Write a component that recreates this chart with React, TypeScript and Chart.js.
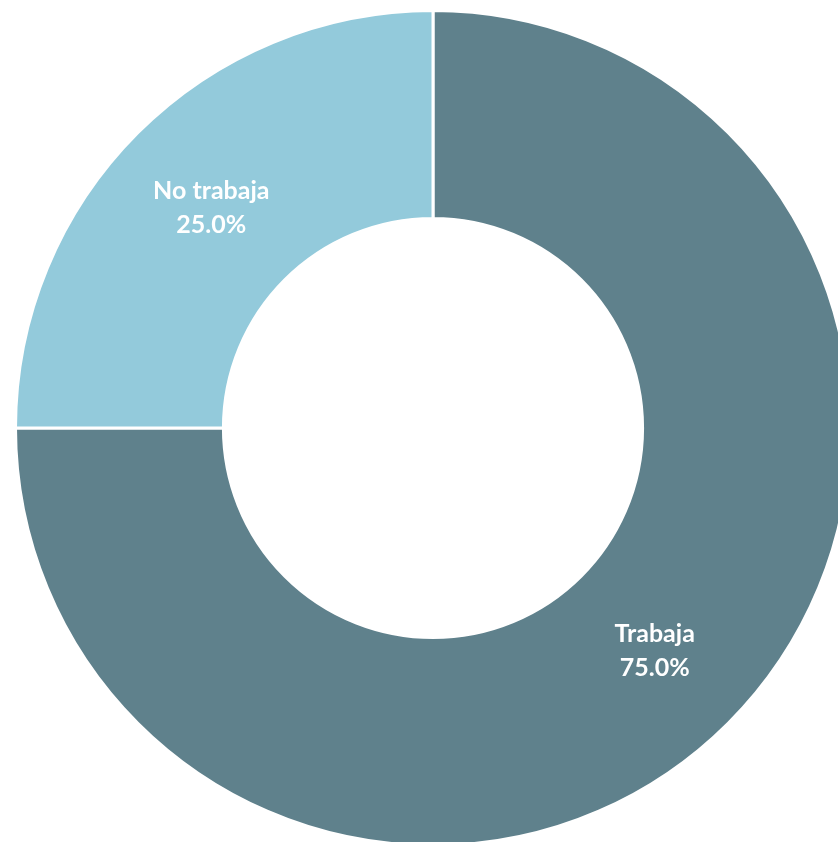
import React, { useEffect, useRef } from "react";
import { Chart, registerables } from "chart.js";

Chart.register(...registerables);

const categories = ["Trabaja", "No trabaja"];
const values = [75.0, 25.0];
const colors = ["#5F818C", "#93CADB"];

const labelPlugin = {
  id: "sliceLabels",
  afterDatasetsDraw(chart: any) {
    const ctx = chart.ctx;
    const meta = chart.getDatasetMeta(0);
    const data = chart.data.datasets[0].data as number[];
    const total = data.reduce((a, b) => a + b, 0);
    ctx.save();
    ctx.fillStyle = "#FFFFFF";
    ctx.font = "bold 25px Lato";
    ctx.textAlign = "center";
    ctx.textBaseline = "alphabetic";
    meta.data.forEach((arc: any, i: number) => {
      const p = arc.tooltipPosition();
      const pct = ((data[i] / total) * 100).toFixed(1) + "%";
      ctx.fillText(String(chart.data.labels[i]), p.x, p.y - 7.5);
      ctx.fillText(pct, p.x, p.y + 26.5);
    });
    ctx.restore();
  },
};

export default function App() {
  const ref = useRef<HTMLCanvasElement | null>(null);
  useEffect(() => {
    if (!ref.current) return;
    const chart = new Chart(ref.current, {
      type: "doughnut",
      data: {
        labels: categories,
        datasets: [
          {
            data: values,
            backgroundColor: colors,
            borderColor: "#FFFFFF",
            borderWidth: 3,
          },
        ],
      },
      options: {
        responsive: false,
        animation: false,
        radius: 417.5,
        cutout: "50.2%",
        plugins: {
          legend: { display: false },
          tooltip: { enabled: false },
        },
      },
      plugins: [labelPlugin],
    });
    return () => chart.destroy();
  }, []);
  return (
    <div
      style={{
        position: "fixed",
        left: 0,
        top: 0,
        width: 838,
        height: 842,
        overflow: "hidden",
        background: "#FFFFFF",
      }}
    >
      <canvas ref={ref} width={866} height={856} style={{ display: "block" }} />
    </div>
  );
}
